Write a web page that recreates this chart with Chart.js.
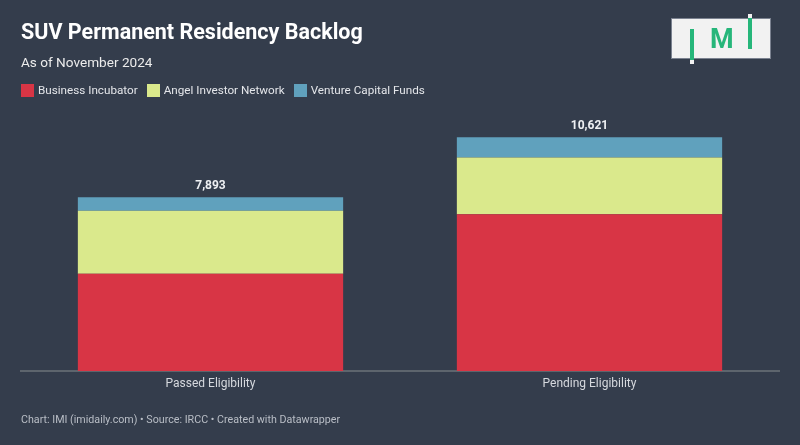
<!DOCTYPE html>
<html>
<head>
<meta charset="utf-8">
<script src="https://cdn.jsdelivr.net/npm/chart.js@4.4.1/dist/chart.umd.min.js"></script>
<style>
  html, body { margin:0; padding:0; background:#343d4c; }
  body { width:800px; height:445px; position:relative; overflow:hidden; font-family: Roboto, "Noto Sans", sans-serif; }
  #wrap { position:absolute; left:0; top:0; width:800px; height:445px; }
  .title { position:absolute; left:21px; top:19px; font-size:21.5px; font-weight:700; color:#ffffff; white-space:nowrap; }
  .sub { position:absolute; left:21px; top:54px; font-size:13.6px; color:#ececec; white-space:nowrap; }
  .legend { position:absolute; left:21px; top:83px; font-size:11.7px; color:#e4e6ea; display:flex; align-items:center; white-space:nowrap; }
  .legend .sw { width:13px; height:13px; display:inline-block; margin-right:4px; }
  .legend .it { display:flex; align-items:center; margin-right:9px; }
  .foot { position:absolute; left:21px; top:413px; font-size:10.7px; color:#b9bec6; white-space:nowrap; }
  .logo { position:absolute; left:671px; top:18px; width:100px; height:41px; background:#f2f2f2; border:1px solid #7b8290; box-sizing:border-box; }
  .g { position:absolute; background:#26b67a; }
  .tip { position:absolute; background:#f2f2f2; }
  .M { position:absolute; left:710px; top:23px; font-size:27px; font-weight:700; color:#26b67a; font-family: Roboto, sans-serif; }
</style>
</head>
<body>
<div id="wrap"><canvas id="c" width="800" height="445"></canvas></div>
<div class="title">SUV Permanent Residency Backlog</div>
<div class="sub">As of November 2024</div>
<div class="legend" id="legend"></div>
<div class="foot">Chart: IMI (imidaily.com) • Source: IRCC • Created with Datawrapper</div>
<div class="logo"></div>
<div class="g" style="left:690px; top:29px; width:4px; height:32px;"></div>
<div class="tip" style="left:690px; top:60px; width:4px; height:4px;"></div>
<div class="g" style="left:748px; top:18px; width:4px; height:31px;"></div>
<div class="tip" style="left:748px; top:14px; width:4px; height:4px;"></div>
<div class="M">M</div>
<script>
const categories = ["Passed Eligibility", "Pending Eligibility"];
const seriesNames = ["Business Incubator", "Angel Investor Network", "Venture Capital Funds"];
const businessIncubator = [4415, 7126];
const angelInvestor = [2868, 2574];
const ventureCapital = [610, 921];
const totals = [7893, 10621];
const colors = ["#d83545", "#dae98c", "#60a1bd"];

const legend = document.getElementById('legend');
seriesNames.forEach((n, i) => {
  const it = document.createElement('div');
  it.className = 'it';
  it.innerHTML = '<span class="sw" style="background:' + colors[i] + '"></span><span>' + n + '</span>';
  legend.appendChild(it);
});

const totalLabels = {
  id: 'totalLabels',
  afterDatasetsDraw(chart) {
    const ctx = chart.ctx;
    const yScale = chart.scales.y;
    const xScale = chart.scales.x;
    ctx.save();
    ctx.font = 'bold 12px Roboto, sans-serif';
    ctx.fillStyle = '#eef0f3';
    ctx.textAlign = 'center';
    ctx.textBaseline = 'alphabetic';
    totals.forEach((t, i) => {
      const x = xScale.getPixelForValue(i);
      const y = yScale.getPixelForValue(t);
      ctx.fillText(t.toLocaleString('en-US'), x, y - 8);
    });
    ctx.restore();
  }
};

new Chart(document.getElementById('c'), {
  type: 'bar',
  data: {
    labels: categories,
    datasets: [
      { label: seriesNames[0], data: businessIncubator, backgroundColor: colors[0] },
      { label: seriesNames[1], data: angelInvestor, backgroundColor: colors[1] },
      { label: seriesNames[2], data: ventureCapital, backgroundColor: colors[2] }
    ]
  },
  options: {
    responsive: false,
    animation: false,
    devicePixelRatio: 1,
    layout: { padding: { left: 21, right: 21, top: 129, bottom: 47.6 } },
    plugins: { legend: { display: false }, tooltip: { enabled: false } },
    datasets: { bar: { barPercentage: 0.7, categoryPercentage: 1, borderWidth: 0 } },
    scales: {
      x: {
        stacked: true,
        grid: { display: false, drawTicks: false },
        border: { display: true, color: '#5d656d', width: 2 },
        ticks: { color: '#d6d9de', font: { family: 'Roboto', size: 12 }, padding: 6 }
      },
      y: {
        stacked: true,
        display: false,
        min: 0,
        max: 11000
      }
    }
  },
  plugins: [totalLabels]
});
</script>
</body>
</html>
